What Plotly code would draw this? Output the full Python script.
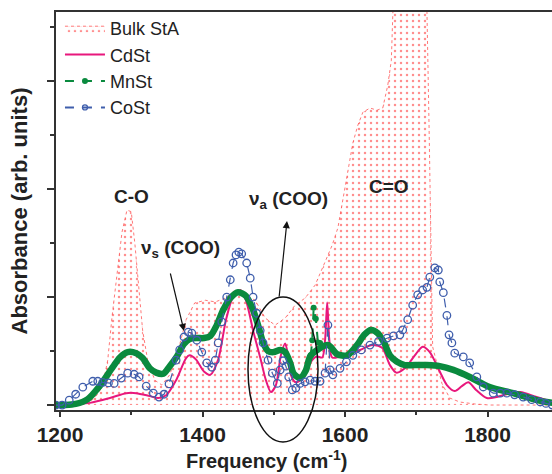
import plotly.graph_objects as go

# ---------------- data ----------------
bulk_freq = [1194,1228,1245,1253,1260,1267,1273,1280,1287,1294,1300,1305,1311,1316,1323,1333,1343,1354,1366,1377,
             1389,1404,1418,1432,1446,1460,1474,1488,1502,1516,1530,1544,1558,1572,1582,1590,1597,1604,1611,1618,
             1625,1635,1645,1653,1660,1665,1669,1691,1714,1718,1723,1736,1747,1761,1782,1803,1891]
bulk_abs = [0.0,0.01,0.045,0.10,0.185,0.415,0.815,1.185,1.60,1.805,1.79,1.50,1.065,0.69,0.415,0.23,0.185,0.28,0.51,0.79,
            0.945,0.97,0.955,0.99,1.065,1.02,0.97,0.805,0.74,0.805,0.925,0.99,1.11,1.325,1.48,1.64,1.915,2.19,2.425,2.59,
            2.71,2.75,2.73,2.75,2.96,3.19,4.0,4.2,4.0,2.565,0.54,0.20,0.065,0.028,0.01,0.0,0.0]

cd_freq = [1196,1221,1242,1270,1293,1307,1326,1338,1349,1363,1377,1382,1391,1402,1411,1422,1433,1444,1453,1461,
           1471,1481,1489,1496,1503,1510,1516,1520,1524,1531,1541,1552,1560,1568,1572,1575,1578,1582,1600,1621,
           1638,1652,1663,1672,1684,1698,1709,1719,1733,1743,1754,1764,1773,1784,1799,1813,1832,1846,1869,1891]
cd_abs = [0.0,0.01,0.02,0.065,0.11,0.11,0.083,0.065,0.09,0.23,0.435,0.46,0.42,0.31,0.28,0.42,0.79,1.02,1.065,0.97,
          0.69,0.44,0.23,0.12,0.185,0.46,0.57,0.46,0.28,0.21,0.25,0.40,0.45,0.44,0.6,0.95,0.6,0.44,0.46,0.51,
          0.555,0.53,0.37,0.30,0.34,0.46,0.54,0.49,0.31,0.185,0.13,0.175,0.21,0.14,0.065,0.074,0.11,0.12,0.074,0.03]

mn_freq = [1194,1207,1222,1239,1255,1274,1284,1295,1307,1316,1326,1335,1345,1354,1364,1374,1382,1392,1402,1411,
           1420,1429,1439,1450,1461,1471,1478,1485,1492,1500,1509,1516,1523,1528,1537,1545,1552,1554,1556,1559,
           1562,1565,1576,1589,1603,1617,1627,1636,1646,1655,1663,1673,1684,1698,1715,1733,1752,1775,1803,1836,
           1869,1891]
mn_abs = [0.0,0.0,0.01,0.055,0.17,0.35,0.44,0.49,0.48,0.435,0.34,0.30,0.29,0.36,0.45,0.565,0.61,0.62,0.62,0.64,
          0.74,0.88,0.99,1.045,1.01,0.88,0.74,0.58,0.50,0.49,0.51,0.49,0.39,0.29,0.25,0.32,0.46,0.6,0.9,0.8,
          0.58,0.575,0.555,0.47,0.46,0.555,0.65,0.695,0.665,0.575,0.46,0.40,0.37,0.37,0.37,0.36,0.325,0.26,0.167,0.11,
          0.046,0.02]

co_freq = [1194,1203,1213,1222,1232,1246,1253,1260,1268,1276,1286,1295,1304,1311,1321,1331,1339,1346,1353,1363,
           1368,1374,1380,1385,1392,1399,1406,1413,1418,1422,1427,1434,1439,1443,1447,1451,1455,1462,1467,1471,
           1476,1481,1485,1492,1498,1505,1509,1513,1517,1521,1526,1531,1537,1544,1551,1558,1565,1572,1576,1579,
           1583,1593,1602,1611,1623,1635,1647,1659,1668,1677,1681,1688,1695,1702,1709,1715,1719,1726,1731,1733,
           1738,1743,1746,1750,1754,1766,1775,1785,1794,1808,1818,1827,1838,1850,1862,1874,1882,1891]
co_abs = [0.0,0.0,0.045,0.10,0.165,0.22,0.22,0.21,0.205,0.20,0.25,0.295,0.285,0.26,0.175,0.11,0.074,0.10,0.195,0.415,
          0.51,0.63,0.675,0.665,0.60,0.49,0.39,0.35,0.415,0.575,0.77,1.0,1.16,1.315,1.39,1.415,1.40,1.315,1.175,1.0,
          0.85,0.69,0.575,0.415,0.295,0.20,0.325,0.41,0.36,0.26,0.14,0.157,0.20,0.215,0.23,0.22,0.22,0.295,0.74,0.325,
          0.28,0.34,0.40,0.46,0.51,0.555,0.59,0.62,0.64,0.65,0.695,0.79,0.925,1.02,1.065,1.09,1.185,1.27,1.25,1.14,
          1.04,0.83,0.65,0.575,0.48,0.445,0.39,0.26,0.167,0.11,0.11,0.11,0.095,0.074,0.05,0.028,0.015,0.0]

x_ticks = [1200, 1400, 1600, 1800]
x_tick_labels = ["1200", "1400", "1600", "1800"]

RED = "#FF1E1E"
PINK = "#E8177C"
GREEN = "#0A8A3E"
BLUE = "#3F5EAC"
AX = "#333333"
FONT = "Arial, Liberation Sans, sans-serif"

# the sharp MnSt spike (1552-1565) is drawn thin and dashed, as in the reference
SPK0, SPK1 = 36, 42
mn_body_f = mn_freq[:SPK0 + 1] + mn_freq[SPK1:]
mn_body_a = mn_abs[:SPK0 + 1] + mn_abs[SPK1:]
mn_spike_f = mn_freq[SPK0:SPK1 + 1]
mn_spike_a = mn_abs[SPK0:SPK1 + 1]

fig = go.Figure()

fig.add_trace(go.Scatter(
    x=bulk_freq, y=bulk_abs, name="Bulk StA", mode="lines",
    line=dict(color="rgba(255,30,30,0.6)", width=1, dash="dot"),
    fill="tozeroy", fillcolor="rgba(0,0,0,0)",
    fillpattern=dict(shape=".", fgcolor=RED, bgcolor="rgba(0,0,0,0)", size=6, solidity=0.14),
    legendrank=1,
))
fig.add_trace(go.Scatter(
    x=cd_freq, y=cd_abs, name="CdSt", mode="lines",
    line=dict(color=PINK, width=2, shape="spline", smoothing=0.8),
    legendrank=2,
))
fig.add_trace(go.Scatter(
    x=mn_body_f, y=mn_body_a, name="MnSt", mode="lines",
    line=dict(color=GREEN, width=6.5, shape="spline", smoothing=0.8),
    showlegend=False,
))
fig.add_trace(go.Scatter(
    x=mn_spike_f, y=mn_spike_a, name="MnSt", mode="lines+markers",
    line=dict(color=GREEN, width=2, dash="dash"), marker=dict(color=GREEN, size=6),
    showlegend=False,
))
fig.add_trace(go.Scatter(
    x=co_freq, y=co_abs, name="CoSt", mode="lines+markers",
    line=dict(color=BLUE, width=1.2, dash="dash"),
    marker=dict(symbol="circle-open", color=BLUE, size=7.5, line=dict(width=1.3, color=BLUE)),
    showlegend=False,
))
# legend entries drawn like the reference's legend keys
fig.add_trace(go.Scatter(
    x=[None], y=[None], name="MnSt", mode="lines+markers",
    line=dict(color=GREEN, width=2, dash="dash"), marker=dict(color=GREEN, size=6),
    legendrank=3,
))
fig.add_trace(go.Scatter(
    x=[None], y=[None], name="CoSt", mode="lines+markers",
    line=dict(color=BLUE, width=2, dash="dash"),
    marker=dict(symbol="circle-open", color=BLUE, size=5, line=dict(width=1.3, color=BLUE)),
    legendrank=4,
))

L, R, T, B = 56, 0, 12, 64
W, H = 552, 474
PW, PH = W - L - R, H - T - B


def P(px, py):
    return (px - L) / PW, (H - B - py) / PH


annotations = []
for txt, (px, py) in [("C-O", (131, 196)),
                      ("ν<sub>s</sub> (COO)", (180, 249)),
                      ("ν<sub>a</sub> (COO)", (288, 200)),
                      ("C=O", (389, 187))]:
    xx, yy = P(px, py)
    annotations.append(dict(x=xx, y=yy, xref="paper", yref="paper", text=txt, showarrow=False,
                            xanchor="center", yanchor="middle",
                            font=dict(family=FONT, size=19, color="#222", weight="bold")))

for (hx, hy), (tx, ty) in [((184, 331), (170, 272)), ((287, 221), (279, 298))]:
    xx, yy = P(hx, hy)
    annotations.append(dict(x=xx, y=yy, xref="paper", yref="paper", text="", showarrow=True,
                            ax=tx - hx, ay=ty - hy, axref="pixel", ayref="pixel",
                            arrowhead=2, arrowsize=1.2, arrowwidth=1.2, arrowcolor="#111", standoff=0))

# x-axis title (the reference's plot area runs past the right edge, so it is off-centre)
xt, yt = P(266, 459)
annotations.append(dict(x=xt, y=yt, xref="paper", yref="paper", text="Frequency (cm<sup>-1</sup>)",
                        showarrow=False, xanchor="center", yanchor="middle",
                        font=dict(family=FONT, size=20, color="#222", weight="bold")))

ex0, ey0 = P(248, 442)
ex1, ey1 = P(318, 297)
shapes = [dict(type="circle", xref="paper", yref="paper", x0=ex0, y0=ey0, x1=ex1, y1=ey1,
               line=dict(color="#111", width=1.5))]

fig.update_layout(
    width=W, height=H,
    margin=dict(l=L, r=R, t=T, b=B, autoexpand=False),
    paper_bgcolor="white", plot_bgcolor="white",
    font=dict(family=FONT, color="#222"),
    showlegend=True,
    legend=dict(x=0.008, y=1.005, xanchor="left", yanchor="top", bgcolor="rgba(0,0,0,0)",
                font=dict(family=FONT, size=18, color="#222"), tracegroupgap=0, itemwidth=40),
    annotations=annotations,
    shapes=shapes,
    xaxis=dict(range=[1194.4, 1890.5], tickvals=x_ticks, ticktext=x_tick_labels,
               ticks="outside", ticklen=5, tickwidth=1.5, tickcolor=AX,
               showline=True, linecolor=AX, linewidth=1.5, mirror=True,
               showgrid=False, zeroline=False, ticklabelstandoff=0,
               tickfont=dict(family=FONT, size=21, color="#222", weight="bold"),
               minor=dict(dtick=100, tick0=1200, ticks="outside", ticklen=3, tickcolor=AX, tickwidth=1.5)),
    yaxis=dict(range=[-0.046, 3.639], dtick=1, tick0=0, showticklabels=False,
               ticks="outside", ticklen=7, tickwidth=1.5, tickcolor=AX,
               showline=True, linecolor=AX, linewidth=1.5, mirror=False,
               showgrid=False, zeroline=False,
               minor=dict(dtick=0.5, ticks="outside", ticklen=4, tickcolor=AX, tickwidth=1.5),
               title=dict(text="Absorbance (arb. units)", standoff=14,
                          font=dict(family=FONT, size=22, color="#222", weight="bold"))),
)

fig.write_html("out.html", config={"displayModeBar": False},
               post_script="document.body.style.margin='0';document.body.style.padding='0';")
